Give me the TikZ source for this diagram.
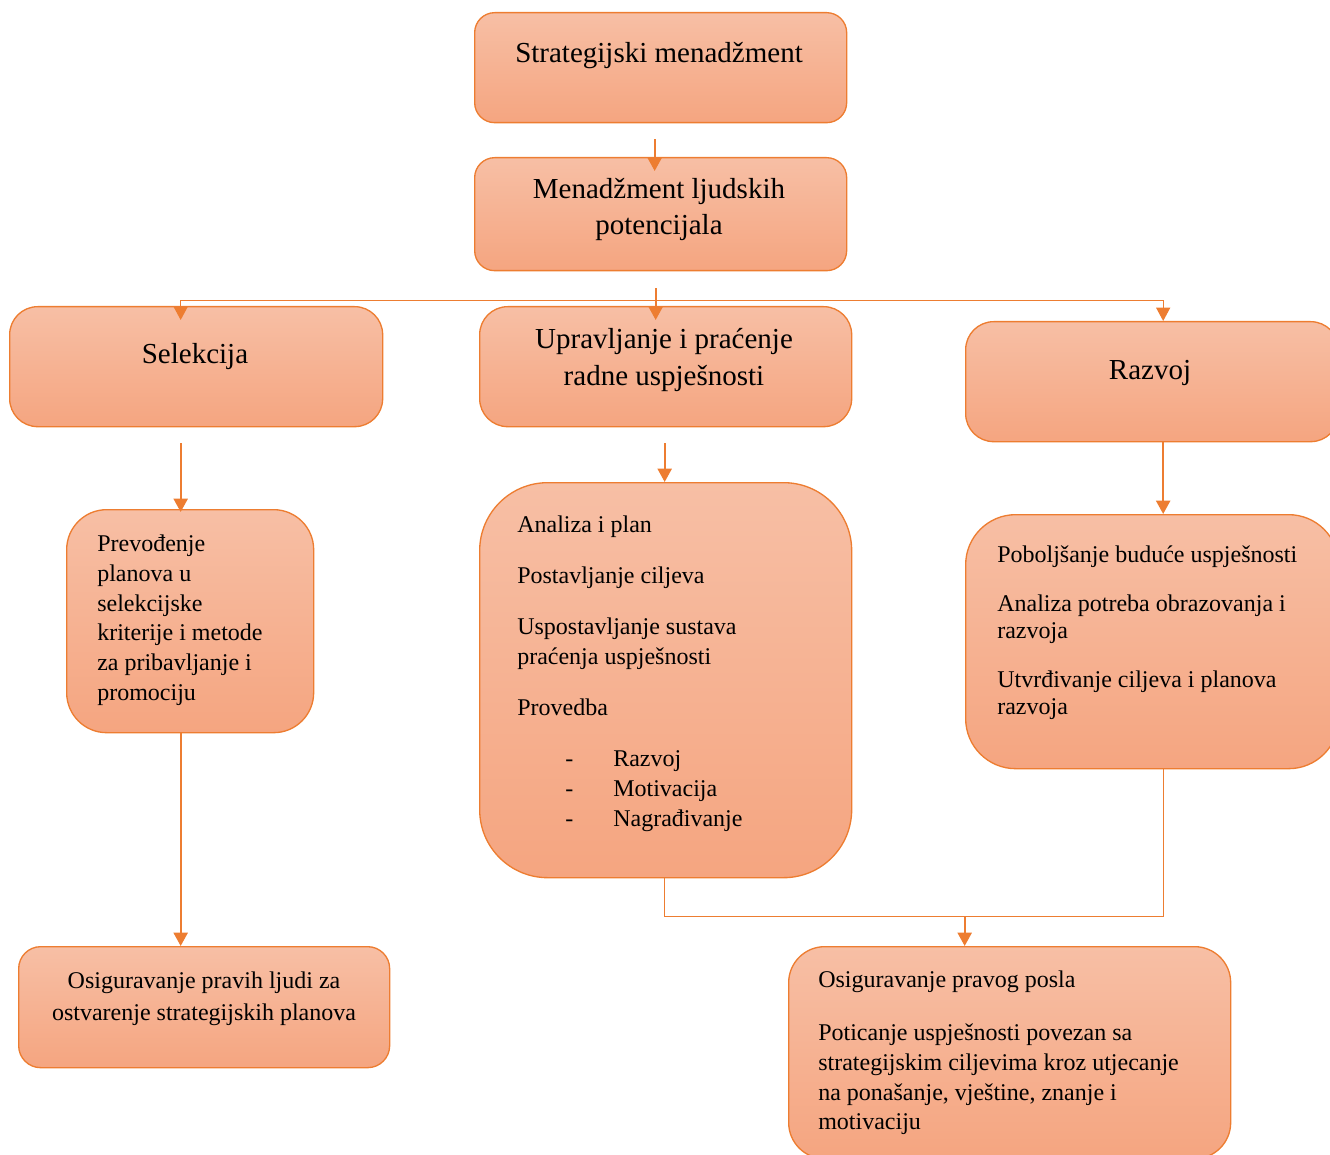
\documentclass[tikz,border=0pt]{standalone}
\usepackage{fontspec}
\setmainfont{Liberation Serif}
\usetikzlibrary{arrows.meta,calc}
\definecolor{boxtop}{RGB}{247,191,165}
\definecolor{boxbot}{RGB}{245,165,128}
\definecolor{oline}{RGB}{237,125,49}
\tikzset{
  box/.style={draw=oline, line width=1pt, top color=boxtop, bottom color=boxbot,
              rectangle, anchor=north west, inner sep=0pt},
  big/.style={font=\fontsize{21.75}{27}\selectfont, inner sep=0pt, text=black},
  sm/.style={font=\fontsize{18}{22.5}\selectfont, inner sep=0pt, text=black},
  arr/.style={draw=oline, line width=1.7pt, -{Triangle[length=10pt,width=10.5pt]}},
  thinarr/.style={draw=oline, line width=1pt, -{Triangle[length=10pt,width=10.5pt]}},
  thinln/.style={draw=oline, line width=1pt}
}
\newcommand{\bx}[6]{\node[box, rounded corners=#6*0.75pt,
  minimum width={(#4-#2)*0.75pt}, minimum height={(#5-#3)*0.75pt}] (#1) at (#2,#3) {};}
\begin{document}
\begin{tikzpicture}[x=0.75pt,y=-0.75pt]
\useasboundingbox (0,0) rectangle (1330,1155);
% boxes
\bx{s}{474}{12}{846}{122}{20}
\bx{m}{474}{157}{846}{270}{20}
\bx{sel}{9}{306}{382}{426}{28}
\bx{u}{479}{306}{851}{426}{28}
\bx{r}{965}{321}{1338}{441}{28}
\bx{prev}{66}{509}{313}{732}{40}
\bx{an}{479}{482}{851}{877}{68}
\bx{pob}{965}{514}{1338}{768}{50}
\bx{osl}{18}{946}{389}{1067}{22}
\bx{osr}{788}{946}{1230}{1158}{36}
% texts
\node[big, anchor=base] (ts) at (659,63) {Strategijski menadžment};
\node[big, anchor=base] (tm1) at (659,199) {Menadžment ljudskih};
\node[big, anchor=base] (tm2) at (659,235) {potencijala};
\node[big, anchor=base] (tsel) at (195,363) {Selekcija};
\node[big, anchor=base] (tu1) at (664,349) {Upravljanje i praćenje};
\node[big, anchor=base] (tu2) at (664,385) {radne uspješnosti};
\node[big, anchor=base] (tr) at (1150,379) {Razvoj};
% Prevodenje
\node[sm, anchor=base west] (p1) at (97,551) {Prevođenje};
\node[sm, anchor=base west] (p2) at (97,581) {planova u};
\node[sm, anchor=base west] (p3) at (97,611) {selekcijske};
\node[sm, anchor=base west] (p4) at (97,640.5) {kriterije i metode};
\node[sm, anchor=base west] (p5) at (97,670) {za pribavljanje i};
\node[sm, anchor=base west] (p6) at (97,700) {promociju};
% Analiza
\node[sm, anchor=base west] (a1) at (517,532) {Analiza i plan};
\node[sm, anchor=base west] (a2) at (517,583) {Postavljanje ciljeva};
\node[sm, anchor=base west] (a3) at (517,634) {Uspostavljanje sustava};
\node[sm, anchor=base west] (a4) at (517,664) {praćenja uspješnosti};
\node[sm, anchor=base west] (a5) at (517,715) {Provedba};
\node[sm, anchor=base west] (d1) at (565,766) {-};
\node[sm, anchor=base west] (d2) at (565,796) {-};
\node[sm, anchor=base west] (d3) at (565,826) {-};
\node[sm, anchor=base west] (b1) at (613,766) {Razvoj};
\node[sm, anchor=base west] (b2) at (613,796) {Motivacija};
\node[sm, anchor=base west] (b3) at (613,826) {Nagrađivanje};
% Poboljsanje
\node[sm, anchor=base west] (q1) at (997,562) {Poboljšanje buduće uspješnosti};
\node[sm, anchor=base west] (q2) at (997,611) {Analiza potreba obrazovanja i};
\node[sm, anchor=base west] (q3) at (997,638) {razvoja};
\node[sm, anchor=base west] (q4) at (997,687) {Utvrđivanje ciljeva i planova};
\node[sm, anchor=base west] (q5) at (997,714) {razvoja};
% Osiguravanje left
\node[sm, anchor=base] (o1) at (204,988) {Osiguravanje pravih ljudi za};
\node[sm, anchor=base] (o2) at (204,1020) {ostvarenje strategijskih planova};
% Osiguravanje right
\node[sm, anchor=base west] (w1) at (818,987) {Osiguravanje pravog posla};
\node[sm, anchor=base west] (w2) at (818,1040) {Poticanje uspješnosti povezan sa};
\node[sm, anchor=base west] (w3) at (818,1070) {strategijskim ciljevima kroz utjecanje};
\node[sm, anchor=base west] (w4) at (818,1100) {na ponašanje, vještine, znanje i};
\node[sm, anchor=base west] (w5) at (818,1129) {motivaciju};
% connectors
\draw[arr] ($(s.south)+(-6,16)$) -- ($(m.north)+(-6,14)$);
\draw[arr] ($(m.south)+(-5,17)$) -- ($(u.north)+(-10,14)$);
\coordinate (hub) at ($(m.south)+(-5,29)$);
\draw[thinarr] (hub) -| ($(sel.north)+(-15.5,14)$);
\draw[thinarr] (hub) -| ($(r.north)+(11,0)$);
\draw[arr] ($(sel.south)+(-15.5,16)$) -- ($(prev.north)+(-9.5,3)$);
\draw[arr] ($(u.south)+(-1,16)$) -- ($(an.north)+(-1,0)$);
\draw[arr] ($(r.south)+(11,0)$) -- ($(pob.north)+(11,0)$);
\draw[arr] ($(prev.south)+(-9.5,0)$) -- ($(osl.north)+(-23.5,0)$);
\draw[thinln] ($(an.south)+(-1,0)$) -- ++(0,38) coordinate (lb) -| ($(pob.south)+(11,0)$);
\path (osr.north) ++(-45,0) coordinate (osrin);
\draw[arr] (lb -| osrin) -- (osrin);
\end{tikzpicture}
\end{document}
